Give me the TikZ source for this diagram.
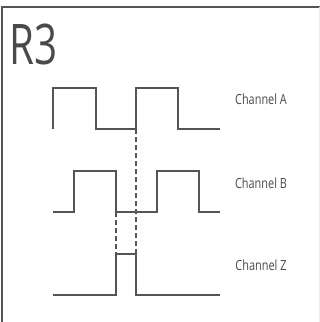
\documentclass[tikz,border=0pt]{standalone}
\usepackage{fontspec}
\newfontfamily\condfont[FakeStretch=0.72]{Open Sans}
\newfontfamily\lblfont[FakeStretch=0.78]{Open Sans}
\definecolor{lc}{HTML}{555555}
\definecolor{tc}{HTML}{4A4A4A}
\begin{document}
\begin{tikzpicture}[x=1pt,y=-1pt,
  sig/.style={draw=lc,line width=1.4pt,line join=miter},
  guide/.style={draw=lc,line width=1.1pt,dash pattern=on 5pt off 3pt},
  lbl/.style={text=tc,font=\lblfont\fontsize{14}{16}\selectfont,inner sep=0pt},
  frame/.style={draw=lc,line width=1.5pt}]
\useasboundingbox (0,0) rectangle (320,322);
\fill[white] (0,0) rectangle (320,322);
% frame
\draw[frame] (2,322) -- (2,7) -- (320,7);
\draw[draw=black!8,line width=1pt] (319,7) -- (319,322);
% title
\node[text=tc,font=\condfont\fontsize{56}{60}\selectfont,anchor=base west,inner sep=0pt] (title) at (9,64) {R3};
% Channel A
\draw[sig] (53,129) -- (53,88) -- (96,88) -- (96,129) -- (136,129) -- (136,88) -- (178,88) -- (178,129) -- (220,129);
% Channel B
\draw[sig] (53,212) -- (74,212) -- (74,171) -- (116,171) -- (116,212) -- (157,212) -- (157,171) -- (199,171) -- (199,212) -- (220,212);
% Channel Z
\draw[sig] (53,295) -- (116,295) -- (116,254) -- (136,254) -- (136,295) -- (220,295);
% dashed guides
\coordinate (a1) at (136,129); \coordinate (z1) at (136,254);
\coordinate (b1) at (116,212); \coordinate (z2) at (116,254);
\draw[guide] (a1) -- (z1);
\draw[guide] (b1) -- (z2);
% labels
\node[lbl] (la) at (261,99) {Channel A};
\node[lbl] (lb) at (261,183) {Channel B};
\node[lbl] (lz) at (261,265) {Channel Z};
\end{tikzpicture}
\end{document}
